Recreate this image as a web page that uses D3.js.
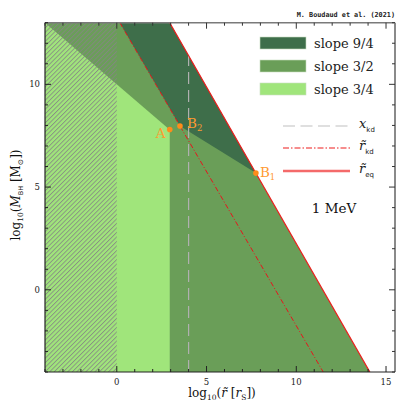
<!DOCTYPE html>
<html><head><meta charset="utf-8">
<script src="https://cdn.jsdelivr.net/npm/d3@7"></script>
<style>body{margin:0;background:#fff}svg{display:block}</style>
</head><body>
<script>
// ---- data ----
const xDomain = [-4, 15.5];
const yDomain = [-4, 13];
const xMajorTicks = [0, 5, 10, 15];
const yMajorTicks = [0, 5, 10];
const xMinorTicks = d3.range(-4, 16, 1);
const yMinorTicks = d3.range(-4, 14, 1);
const eqLine = [[2.95, 13], [14.1, -4]];          // r~_eq (solid red)
const kdLine = [[0.17, 13], [11.5, -4]];          // r~_kd (dash-dot)
const xkd = 4;                                     // x_kd (dashed gray)
const lightTop = [[-4, 13], [2.95, 7.79]];         // slope 3/4 upper boundary
const hatchMaxX = 0;
const pointNames = ["A", "B2", "B1"];
const pointX = [2.95, 3.52, 7.75];
const pointY = [7.8, 7.97, 5.68];
const legendSlopes = ["slope 9/4", "slope 3/2", "slope 3/4"];
const colors = {dark: "#3e6e4a", mid: "#6a9e58", light: "#a0e57b"};

// ---- setup ----
const W = 417, H = 417;
const svg = d3.select("body").append("svg").attr("width", W).attr("height", H);
const x = d3.scaleLinear().domain(xDomain).range([45, 395]);
const y = d3.scaleLinear().domain(yDomain).range([372, 22.7]);
const defs = svg.append("defs");
const cp = defs.append("clipPath").attr("id", "clip");
cp.append("rect").attr("x", x(xDomain[0])).attr("y", y(yDomain[1]))
  .attr("width", x(xDomain[1]) - x(xDomain[0])).attr("height", y(yDomain[0]) - y(yDomain[1]));
const pat = defs.append("pattern").attr("id", "hatch").attr("patternUnits", "userSpaceOnUse")
  .attr("width", 3.2).attr("height", 3.2).attr("patternTransform", "rotate(45)");
pat.append("line").attr("x1", 0.5).attr("y1", 0).attr("x2", 0.5).attr("y2", 3.2)
  .attr("stroke", "#858585").attr("stroke-width", 0.8);

const g = svg.append("g").attr("clip-path", "url(#clip)");
const line = d3.line().x(d => x(d[0])).y(d => y(d[1]));
const poly = pts => line(pts) + "Z";

const A = [pointX[0], pointY[0]], B2 = [pointX[1], pointY[1]], B1 = [pointX[2], pointY[2]];
g.append("path").attr("d", poly([[xDomain[0], yDomain[1]], eqLine[0], eqLine[1], [xDomain[0], yDomain[0]]]))
  .attr("fill", colors.mid);
g.append("path").attr("d", poly([[xDomain[0], yDomain[0]], lightTop[0], lightTop[1], [lightTop[1][0], yDomain[0]]]))
  .attr("fill", colors.light);
g.append("path").attr("d", poly([kdLine[0], eqLine[0], B1, B2]))
  .attr("fill", colors.dark);
g.append("rect").attr("x", x(xDomain[0])).attr("y", y(yDomain[1]))
  .attr("width", x(hatchMaxX) - x(xDomain[0])).attr("height", y(yDomain[0]) - y(yDomain[1]))
  .attr("fill", "url(#hatch)");
const eqSlope = (eqLine[1][1] - eqLine[0][1]) / (eqLine[1][0] - eqLine[0][0]);
const yEqAtXkd = eqLine[0][1] + eqSlope * (xkd - eqLine[0][0]);
g.append("line").attr("x1", x(xkd)).attr("x2", x(xkd)).attr("y1", y(yDomain[0])).attr("y2", y(yEqAtXkd))
  .attr("stroke", "#b0b0b0").attr("stroke-width", 1.2).attr("stroke-dasharray", "12,6");
g.append("path").attr("d", line(kdLine)).attr("fill", "none")
  .attr("stroke", "#e8141c").attr("stroke-width", 1).attr("stroke-dasharray", "5,2,1,2");
g.append("path").attr("d", line(eqLine)).attr("fill", "none")
  .attr("stroke", "#ee1c1c").attr("stroke-width", 1.2);

const ptColor = "#ff8c1a";
pointNames.forEach((n, i) => {
  svg.append("circle").attr("cx", x(pointX[i])).attr("cy", y(pointY[i])).attr("r", 2.8).attr("fill", ptColor);
});
const ptLabel = (px, py, main, sub) => {
  const t = svg.append("text").attr("x", px).attr("y", py).attr("fill", "#ff9a30")
    .attr("font-family", "DejaVu Serif").attr("font-size", 13.5).text(main);
  if (sub) t.append("tspan").attr("font-size", 8.5).attr("dy", 3).text(sub);
};
ptLabel(x(pointX[0]) - 14, y(pointY[0]) + 8, "A");
ptLabel(x(pointX[1]) + 7, y(pointY[1]) + 2, "B", "2");
ptLabel(x(pointX[2]) + 4, y(pointY[2]) + 4, "B", "1");

const fr = svg.append("g");
const x0 = x(xDomain[0]), x1 = x(xDomain[1]), y0 = y(yDomain[0]), y1 = y(yDomain[1]);
fr.append("line").attr("x1", x0).attr("x2", x1).attr("y1", y1).attr("y2", y1).attr("stroke", "#7a7a7a").attr("stroke-width", 1.6);
fr.append("line").attr("x1", x1).attr("x2", x1).attr("y1", y0).attr("y2", y1).attr("stroke", "#8a8a8a").attr("stroke-width", 2);
fr.append("line").attr("x1", x0).attr("x2", x1).attr("y1", y0).attr("y2", y0).attr("stroke", "#222").attr("stroke-width", 1.2);
fr.append("line").attr("x1", x0).attr("x2", x0).attr("y1", y0).attr("y2", y1).attr("stroke", "#222").attr("stroke-width", 1.2);
xMinorTicks.forEach(v => {
  const L = xMajorTicks.includes(v) ? 6 : 3;
  fr.append("line").attr("x1", x(v)).attr("x2", x(v)).attr("y1", y0).attr("y2", y0 - L).attr("stroke", "#222");
  fr.append("line").attr("x1", x(v)).attr("x2", x(v)).attr("y1", y1).attr("y2", y1 + L).attr("stroke", "#333");
});
yMinorTicks.forEach(v => {
  const L = yMajorTicks.includes(v) ? 6 : 3;
  fr.append("line").attr("y1", y(v)).attr("y2", y(v)).attr("x1", x0).attr("x2", x0 + L).attr("stroke", "#222");
  fr.append("line").attr("y1", y(v)).attr("y2", y(v)).attr("x1", x1).attr("x2", x1 - L).attr("stroke", "#333");
});
xMajorTicks.forEach(v => {
  fr.append("text").attr("x", x(v)).attr("y", y0 + 13).attr("text-anchor", "middle")
    .attr("font-family", "DejaVu Serif").attr("font-size", 8.5).attr("fill", "#222").text(v);
});
yMajorTicks.forEach(v => {
  fr.append("text").attr("x", x0 - 5).attr("y", y(v) + 3).attr("text-anchor", "end")
    .attr("font-family", "DejaVu Serif").attr("font-size", 8.5).attr("fill", "#222").text(v);
});

const xl = svg.append("text").attr("x", 222).attr("y", 397).attr("text-anchor", "middle")
  .attr("font-family", "DejaVu Serif").attr("font-size", 12).attr("fill", "#111");
xl.append("tspan").text("log");
xl.append("tspan").attr("font-size", 7.5).attr("dy", 3).text("10");
xl.append("tspan").attr("dy", -3).text("(");
xl.append("tspan").attr("font-style", "italic").text("r\u0303");
xl.append("tspan").text(" [");
xl.append("tspan").attr("font-style", "italic").text("r");
xl.append("tspan").attr("font-size", 7.5).attr("dy", 3).text("S");
xl.append("tspan").attr("dy", -3).text("])");

const yl = svg.append("text").attr("transform", "translate(20,195) rotate(-90)").attr("text-anchor", "middle")
  .attr("font-family", "DejaVu Serif").attr("font-size", 12).attr("fill", "#111");
yl.append("tspan").text("log");
yl.append("tspan").attr("font-size", 7.5).attr("dy", 3).text("10");
yl.append("tspan").attr("dy", -3).text("(");
yl.append("tspan").attr("font-style", "italic").text("M");
yl.append("tspan").attr("font-size", 6.5).attr("dy", 3).attr("font-family", "DejaVu Sans").text("BH");
yl.append("tspan").attr("dy", -3).text(" [M");
yl.append("tspan").attr("font-size", 7.5).attr("dy", 3).text("\u2299");
yl.append("tspan").attr("dy", -3).text("])");

svg.append("text").attr("x", 395).attr("y", 17).attr("text-anchor", "end")
  .attr("font-family", "DejaVu Sans Mono").attr("font-weight", "bold").attr("font-size", 6.8)
  .attr("fill", "#222").text("M. Boudaud et al. (2021)");

const legColors = [colors.dark, colors.mid, colors.light];
legendSlopes.forEach((s, i) => {
  const yy = 37 + i * 23;
  svg.append("rect").attr("x", 260).attr("y", yy).attr("width", 46).attr("height", 12)
    .attr("fill", legColors[i]).attr("stroke", "#c8dcc0").attr("stroke-width", 0.6);
  svg.append("text").attr("x", 314).attr("y", yy + 10.5).attr("font-family", "DejaVu Serif")
    .attr("font-size", 13).attr("fill", "#222").text(s);
});
const lineLeg = [
  {y: 126, stroke: "#c0c0c0", w: 1.2, dash: "12,5.5", main: "x", sub: "kd", tilde: false},
  {y: 148, stroke: "#ee1c1c", w: 1.2, dash: "6,2,1.5,2", main: "r", sub: "kd", tilde: true},
  {y: 171, stroke: "#f46a6a", w: 2.5, dash: null, main: "r", sub: "eq", tilde: true}
];
lineLeg.forEach(d => {
  svg.append("line").attr("x1", 283).attr("x2", 350).attr("y1", d.y).attr("y2", d.y)
    .attr("stroke", d.stroke).attr("stroke-width", d.w).attr("stroke-dasharray", d.dash);
  const t = svg.append("text").attr("x", 359).attr("y", d.y + 2).attr("font-family", "DejaVu Serif")
    .attr("font-size", 13).attr("fill", "#222");
  t.append("tspan").attr("font-style", "italic").text(d.tilde ? d.main + "\u0303" : d.main);
  t.append("tspan").attr("font-size", 7).attr("font-family", "DejaVu Sans").attr("dy", 4).text(d.sub);
});

svg.append("text").attr("x", 334).attr("y", 213).attr("text-anchor", "middle")
  .attr("font-family", "DejaVu Serif").attr("font-size", 13.5).attr("fill", "#111").text("1 MeV");
</script>
</body></html>
